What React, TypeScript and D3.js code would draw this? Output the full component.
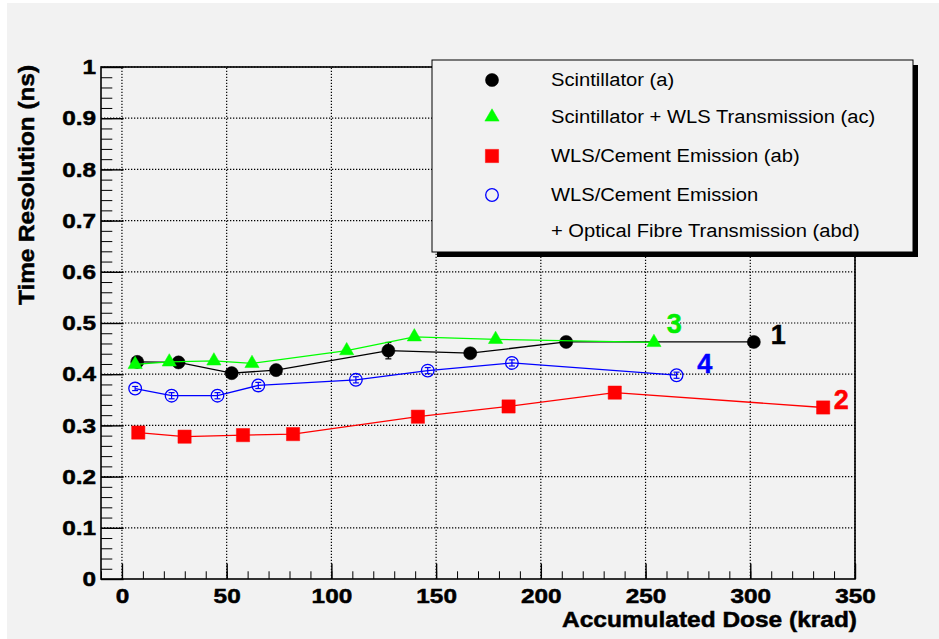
import React, { useEffect, useRef } from 'react';
import * as d3 from 'd3';

// Scintillator (a)
const doseA = [7.3, 27.0, 52.4, 73.6, 127.2, 166.3, 212.1, 301.7];
const resA = [0.424, 0.423, 0.402, 0.408, 0.446, 0.441, 0.463, 0.463];
const errA = [0.004, 0.004, 0.004, 0.004, 0.016, 0.004, 0.009, 0.004];

// Scintillator + WLS Transmission (ac)
const doseAC = [6.3, 22.6, 43.9, 62.1, 107.3, 139.6, 178.4, 254.0];
const resAC = [0.419, 0.424, 0.426, 0.421, 0.446, 0.473, 0.468, 0.462];
const errAC = [0, 0, 0, 0, 0, 0, 0, 0];

// WLS/Cement Emission (ab)
const doseAB = [7.8, 29.9, 57.8, 81.7, 141.3, 184.6, 235.3, 334.8];
const resAB = [0.286, 0.278, 0.281, 0.283, 0.317, 0.337, 0.364, 0.335];
const errAB = [0, 0, 0, 0, 0, 0, 0, 0];

// WLS/Cement Emission + Optical Fibre Transmission (abd)
const doseABD = [6.3, 23.7, 45.6, 65.1, 111.7, 146.0, 186.2, 264.8];
const resABD = [0.372, 0.358, 0.358, 0.378, 0.389, 0.407, 0.422, 0.398];
const errABD = [0.004, 0.006, 0.006, 0.006, 0.006, 0.006, 0.006, 0.006];

const legendLabels = [
  'Scintillator (a)',
  'Scintillator + WLS Transmission (ac)',
  'WLS/Cement Emission (ab)',
  'WLS/Cement Emission',
  '+ Optical Fibre Transmission (abd)',
];

// curve numbers written next to the last points (data coords)
const curveTags = ['1', '3', '2', '4'];
const tagDose = [309.8, 260.1, 339.8, 274.7];
const tagRes = [0.459, 0.48, 0.332, 0.402];

const xTicks = [0, 50, 100, 150, 200, 250, 300, 350];
const yTicks = [0, 0.1, 0.2, 0.3, 0.4, 0.5, 0.6, 0.7, 0.8, 0.9, 1];

const App = () => {
  const ref = useRef<SVGSVGElement>(null);

  useEffect(() => {
    document.body.style.margin = '0';
    const W = 939;
    const H = 639;
    const frame = { left: 101, right: 855, top: 67, bottom: 579 };
    const font = '"Liberation Sans", Arial, Helvetica, sans-serif';

    const svg = d3.select(ref.current);
    svg.selectAll('*').remove();
    svg.attr('width', W).attr('height', H).style('display', 'block');

    svg.append('rect').attr('width', W).attr('height', H).attr('fill', '#ffffff');
    svg.append('rect').attr('x', 7).attr('y', 3).attr('width', W - 7).attr('height', H - 3).attr('fill', '#f2f2f2');

    const x = d3.scaleLinear().domain([-10, 350]).range([frame.left, frame.right]);
    const y = d3.scaleLinear().domain([0, 1]).range([frame.bottom, frame.top]);

    // dotted grid
    const grid = svg.append('g').attr('stroke', '#000').attr('stroke-width', 1.2).attr('stroke-dasharray', '1.3,1.7');
    grid.selectAll('.gx').data(xTicks).enter().append('line')
      .attr('x1', d => x(d)).attr('x2', d => x(d))
      .attr('y1', frame.bottom).attr('y2', frame.top);
    grid.selectAll('.gy').data(yTicks.filter(d => d > 0)).enter().append('line')
      .attr('x1', frame.left).attr('x2', frame.right)
      .attr('y1', d => y(d)).attr('y2', d => y(d));

    // minor ticks
    svg.append('g')
      .attr('transform', `translate(0,${frame.bottom})`)
      .call(d3.axisBottom(x).tickValues(d3.range(-10, 351, 10)).tickSize(-7.7).tickFormat(() => ''))
      .call(g => g.select('.domain').remove());
    svg.append('g')
      .attr('transform', `translate(${frame.left},0)`)
      .call(d3.axisLeft(y).tickValues(d3.range(0, 1.001, 0.02)).tickSize(-11.3).tickFormat(() => ''))
      .call(g => g.select('.domain').remove());

    // major ticks + labels
    const xAxis = svg.append('g')
      .attr('transform', `translate(0,${frame.bottom})`)
      .call(d3.axisBottom(x).tickValues(xTicks).tickSize(-15.4).tickPadding(9).tickFormat(d => String(d)));
    const yAxis = svg.append('g')
      .attr('transform', `translate(${frame.left},0)`)
      .call(d3.axisLeft(y).tickValues(yTicks).tickSize(-22.6).tickPadding(5).tickFormat(d => String(+(+d).toFixed(1))));
    [xAxis, yAxis].forEach(a => {
      a.select('.domain').remove();
      a.selectAll('line').attr('stroke-width', 1.4);
      a.selectAll('text')
        .attr('font-family', font).attr('font-weight', 'bold').attr('font-size', 21)
        .attr('fill', '#000').attr('stroke', '#000').attr('stroke-width', 0.5)
        .attr('data-k', 1.16);
    });
    svg.selectAll('.tick line').attr('stroke', '#000');

    // frame
    svg.append('rect')
      .attr('x', frame.left).attr('y', frame.top)
      .attr('width', frame.right - frame.left).attr('height', frame.bottom - frame.top)
      .attr('fill', 'none').attr('stroke', '#000').attr('stroke-width', 1.6);

    // axis titles
    svg.append('text')
      .attr('x', 857).attr('y', 627).attr('text-anchor', 'end')
      .attr('font-family', font).attr('font-weight', 'bold').attr('font-size', 22.5)
      .attr('stroke', '#000').attr('stroke-width', 0.5)
      .attr('data-w', 295)
      .text('Accumulated Dose (krad)');
    svg.append('text')
      .attr('transform', 'translate(34,65) rotate(-90)')
      .attr('text-anchor', 'end')
      .attr('font-family', font).attr('font-weight', 'bold').attr('font-size', 21.5)
      .attr('stroke', '#000').attr('stroke-width', 0.5)
      .attr('data-w', 240)
      .text('Time Resolution (ns)');

    const series = [
      { dose: doseA, res: resA, err: errA, color: '#000000', symbol: d3.symbolCircle, size: 135, open: false },
      { dose: doseAC, res: resAC, err: errAC, color: '#00ff00', symbol: d3.symbolTriangle, size: 88, open: false },
      { dose: doseAB, res: resAB, err: errAB, color: '#ff0000', symbol: d3.symbolSquare, size: 175, open: false },
      { dose: doseABD, res: resABD, err: errABD, color: '#0000ff', symbol: d3.symbolCircle, size: 125, open: true },
    ];

    series.forEach(s => {
      const pts = s.dose.map((d, i) => [x(d), y(s.res[i])] as [number, number]);
      svg.append('path')
        .attr('d', d3.line()(pts))
        .attr('fill', 'none').attr('stroke', s.color).attr('stroke-width', 1.3);

      const g = svg.append('g');
      // error bars
      s.dose.forEach((d, i) => {
        if (!s.err[i]) return;
        const cx = x(d);
        const y1 = y(s.res[i] - s.err[i]);
        const y2 = y(s.res[i] + s.err[i]);
        g.append('line').attr('x1', cx).attr('x2', cx).attr('y1', y1).attr('y2', y2)
          .attr('stroke', s.color).attr('stroke-width', 1.2);
        [y1, y2].forEach(yy => g.append('line')
          .attr('x1', cx - 3).attr('x2', cx + 3).attr('y1', yy).attr('y2', yy)
          .attr('stroke', s.color).attr('stroke-width', 1.2));
      });

      g.selectAll('.m').data(pts).enter().append('path')
        .attr('transform', d => `translate(${d[0]},${d[1]})`)
        .attr('d', d3.symbol().type(s.symbol).size(s.size)())
        .attr('fill', s.open ? 'none' : s.color)
        .attr('stroke', s.color).attr('stroke-width', s.open ? 1.3 : 0.5);
    });

    // curve numbers
    const tagColors = ['#000000', '#00ee00', '#ff0000', '#0000ff'];
    svg.selectAll('.tag').data(curveTags).enter().append('text')
      .attr('x', (d, i) => x(tagDose[i])).attr('y', (d, i) => y(tagRes[i]))
      .attr('font-family', font).attr('font-weight', 'bold').attr('font-size', 27)
      .attr('fill', (d, i) => tagColors[i])
      .attr('stroke', (d, i) => tagColors[i]).attr('stroke-width', 0.5)
      .text(d => d);

    // legend
    const lg = { x: 432, y: 60, w: 481, h: 192 };
    svg.append('rect').attr('x', lg.x + 5).attr('y', lg.y + 5).attr('width', lg.w).attr('height', lg.h).attr('fill', '#000');
    svg.append('rect').attr('x', lg.x).attr('y', lg.y).attr('width', lg.w).attr('height', lg.h)
      .attr('fill', '#f2f2f2').attr('stroke', '#000').attr('stroke-width', 1);

    const rowY = [80, 117, 156, 195, 231];
    const mx = 492;
    series.forEach((s, i) => {
      svg.append('path')
        .attr('transform', `translate(${mx},${rowY[i]})`)
        .attr('d', d3.symbol().type(s.symbol).size(s.size)())
        .attr('fill', s.open ? 'none' : s.color)
        .attr('stroke', s.color).attr('stroke-width', s.open ? 1.3 : 0.5);
    });
    svg.selectAll('.lt').data(legendLabels).enter().append('text')
      .attr('x', 551).attr('y', (d, i) => rowY[i]).attr('dy', '0.35em')
      .attr('font-family', font).attr('font-size', 18).attr('fill', '#000')
      .attr('data-k', 1.12)
      .text(d => d);

    // widen text like the original rendering
    svg.selectAll<SVGTextElement, unknown>('text[data-k], text[data-w]').each(function () {
      const len = this.getComputedTextLength();
      const w = this.getAttribute('data-w');
      const k = +(this.getAttribute('data-k') || 1);
      this.setAttribute('textLength', String(w ? +w : len * k));
      this.setAttribute('lengthAdjust', 'spacingAndGlyphs');
    });
  }, []);

  return <svg ref={ref}></svg>;
};

export default App;
